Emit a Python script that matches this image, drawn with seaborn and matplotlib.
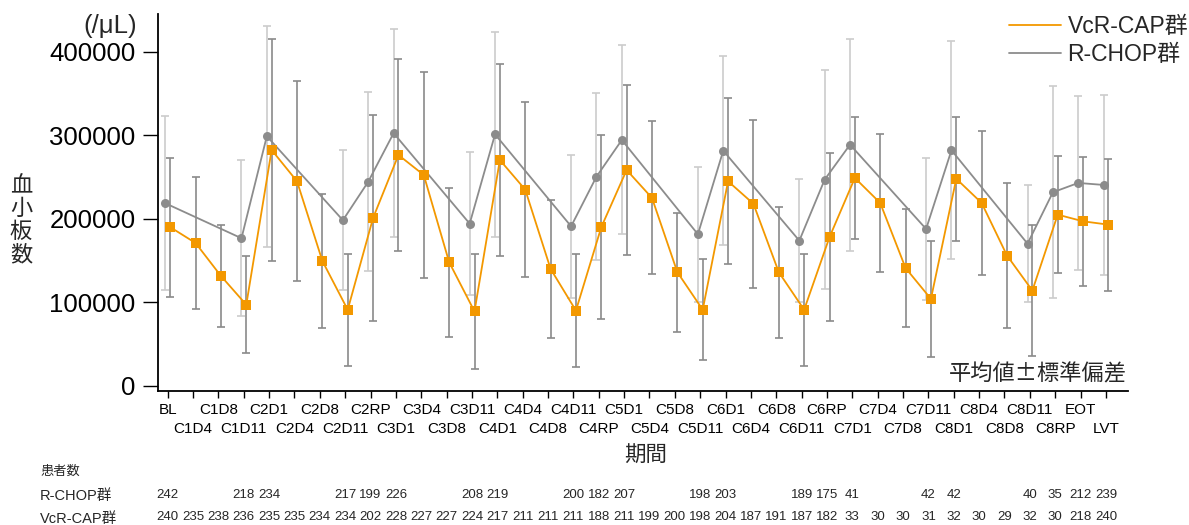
import numpy as np
import pandas as pd
import matplotlib
matplotlib.use("Agg")
import matplotlib.pyplot as plt
import matplotlib.transforms as mtransforms
from matplotlib.lines import Line2D
import seaborn as sns

# ---------------- data ----------------
categories = ["BL", "C1D4", "C1D8", "C1D11", "C2D1", "C2D4", "C2D8", "C2D11", "C2RP",
              "C3D1", "C3D4", "C3D8", "C3D11", "C4D1", "C4D4", "C4D8", "C4D11", "C4RP",
              "C5D1", "C5D4", "C5D8", "C5D11", "C6D1", "C6D4", "C6D8", "C6D11", "C6RP",
              "C7D1", "C7D4", "C7D8", "C7D11", "C8D1", "C8D4", "C8D8", "C8D11", "C8RP",
              "EOT", "LVT"]

vcr_mean = [190000, 171000, 131500, 97000, 282500, 245000, 149500, 91000, 201000,
            276500, 252500, 148000, 89000, 270500, 235000, 140000, 90000, 190000,
            258500, 225000, 136000, 91000, 245000, 218000, 136000, 91000, 178000,
            249000, 219000, 141000, 104000, 248000, 219000, 156000, 114000, 205000,
            197000, 193000]
vcr_sd = [83300, 79700, 61200, 58000, 132900, 119900, 80000, 67400, 123200,
          114700, 123800, 89100, 69100, 114900, 105300, 82600, 68100, 110500,
          101700, 91700, 71200, 60600, 99700, 100700, 78300, 67300, 100400,
          72900, 82300, 71000, 69600, 74300, 86400, 86600, 78300, 70500,
          77000, 79200]

rchop_cats = ["BL", "C1D11", "C2D1", "C2D11", "C2RP", "C3D1", "C3D11", "C4D1", "C4D11",
              "C4RP", "C5D1", "C5D11", "C6D1", "C6D11", "C6RP", "C7D1", "C7D11", "C8D1",
              "C8D11", "C8RP", "EOT", "LVT"]
rchop_mean = [218600, 176700, 299000, 198300, 244500, 302700, 194200, 301300, 191000,
              250500, 294500, 181500, 281700, 173800, 247000, 288900, 187800, 282200,
              170200, 231800, 243000, 240600]
rchop_sd = [104500, 93300, 132700, 83700, 107000, 124300, 85500, 122900, 86000,
            99800, 113300, 81000, 112900, 74000, 131500, 126900, 85000, 130900,
            69800, 127200, 104000, 107500]

rchop_n = [242, 218, 234, 217, 199, 226, 208, 219, 200, 182, 207, 198, 203, 189, 175,
           41, 42, 42, 40, 35, 212, 239]
vcr_n = [240, 235, 238, 236, 235, 235, 234, 234, 202, 228, 227, 227, 224, 217, 211, 211,
         211, 188, 211, 199, 200, 198, 204, 187, 191, 187, 182, 33, 30, 30, 31, 32, 30,
         29, 32, 30, 218, 240]

yticks = [0, 100000, 200000, 300000, 400000]

# ---------------- style ----------------
sns.set_theme(style="white")
plt.rcParams['font.family'] = ['Liberation Sans', 'Noto Sans CJK JP']
plt.rcParams['axes.unicode_minus'] = False

ORANGE = '#F39800'
GRAY = '#8C8C8C'
ERR_R = '#CCCCCC'
ERR_V = '#8A8A8A'

W, H = 1189, 525
fig = plt.figure(figsize=(W / 100, H / 100), dpi=100)
ax = fig.add_axes([158.3 / W, 1 - 391 / H, (1127.7 - 158.3) / W, (391 - 14) / H])

def fx(x):
    return x / W

def fy(y):
    return 1 - y / H

pos = {c: i for i, c in enumerate(categories)}
df_v = pd.DataFrame({'x': np.arange(len(categories)) + 0.10, 'y': vcr_mean,
                     'sd': vcr_sd, 'group': 'VcR-CAP群'})
df_r = pd.DataFrame({'x': [pos[c] - 0.09 for c in rchop_cats], 'y': rchop_mean,
                     'sd': rchop_sd, 'group': 'R-CHOP群'})
df = pd.concat([df_r, df_v], ignore_index=True)

# error bars
ax.errorbar(df_r['x'], df_r['y'], yerr=df_r['sd'], fmt='none', ecolor=ERR_R,
            elinewidth=1.2, capsize=3, capthick=1.2, zorder=1)
ax.errorbar(df_v['x'], df_v['y'], yerr=df_v['sd'], fmt='none', ecolor=ERR_V,
            elinewidth=1.2, capsize=3, capthick=1.2, zorder=1.5)

# lines + markers
sns.lineplot(data=df, x='x', y='y', hue='group', style='group',
             hue_order=['R-CHOP群', 'VcR-CAP群'],
             palette={'VcR-CAP群': ORANGE, 'R-CHOP群': GRAY},
             markers={'VcR-CAP群': 's', 'R-CHOP群': 'o'}, dashes=False,
             estimator=None, sort=False, linewidth=1.3, markersize=6.5,
             markeredgewidth=0, legend=False, ax=ax, zorder=3)

# axes
ax.set_xlim(-0.37, 37.86)
ax.set_ylim(-6400, 445500)
even = list(range(0, len(categories), 2))
odd = list(range(1, len(categories), 2))
ax.set_xticks(even)
ax.set_xticklabels([categories[i] for i in even])
ax.set_xticks(odd, minor=True)
ax.set_xticklabels([categories[i] for i in odd], minor=True)
ax.set_yticks(yticks)
ax.set_yticklabels([str(v) for v in yticks])
ax.set_xlabel('')
ax.set_ylabel('')
for s in ['top', 'right']:
    ax.spines[s].set_visible(False)
for s in ['left', 'bottom']:
    ax.spines[s].set_color('black')
    ax.spines[s].set_linewidth(1.3)
ax.tick_params(axis='x', which='major', direction='out', length=5, width=1, pad=4,
               labelsize=11, colors='black', bottom=True)
ax.tick_params(axis='x', which='minor', direction='out', length=5, width=1, pad=17.5,
               labelsize=11, colors='black', bottom=True)
ax.tick_params(axis='y', direction='out', length=10.8, width=1, pad=5.5, labelsize=18.5,
               colors='black', left=True)
ax.tick_params(axis='y', which='minor', left=False)

# legend
handles = [Line2D([0], [0], color=ORANGE, lw=1.3), Line2D([0], [0], color=GRAY, lw=1.3)]
fig.legend(handles, ['VcR-CAP群', 'R-CHOP群'], loc='upper left',
           bbox_to_anchor=(fx(1009), fy(15)), bbox_transform=fig.transFigure,
           frameon=False, fontsize=16.5, handlelength=2.25, handletextpad=0.3,
           labelspacing=0.2, borderpad=0, borderaxespad=0)

# texts
fig.text(fx(137), fy(26), '(/μL)', ha='right', va='center', fontsize=18.5)
fig.text(fx(21), fy(220), '血\n小\n板\n数', ha='center', va='center', fontsize=16,
         linespacing=1.0, family=['Noto Sans CJK JP'])
fig.text(fx(646), fy(456), '期間', ha='center', va='center', fontsize=15.5,
         family=['Noto Sans CJK JP'])
fig.text(fx(1127), fy(374), '平均値±標準偏差', ha='right', va='center', fontsize=16,
         family=['Noto Sans CJK JP'])

# patient number table
fig.text(fx(40), fy(471), '患者数', ha='left', va='center', fontsize=9.5,
         family=['Noto Sans CJK JP'])
fig.text(fx(40), fy(496), 'R-CHOP群', ha='left', va='center', fontsize=10.5)
fig.text(fx(40), fy(519), 'VcR-CAP群', ha='left', va='center', fontsize=10.5)
trans = mtransforms.blended_transform_factory(ax.transData, fig.transFigure)
for c, n in zip(rchop_cats, rchop_n):
    ax.text(pos[c], fy(495), str(n), transform=trans, ha='center', va='center',
            fontsize=9.5, clip_on=False)
for i, n in enumerate(vcr_n):
    ax.text(i, fy(517), str(n), transform=trans, ha='center', va='center',
            fontsize=9.5, clip_on=False)

fig.savefig('out.png', dpi=100)
